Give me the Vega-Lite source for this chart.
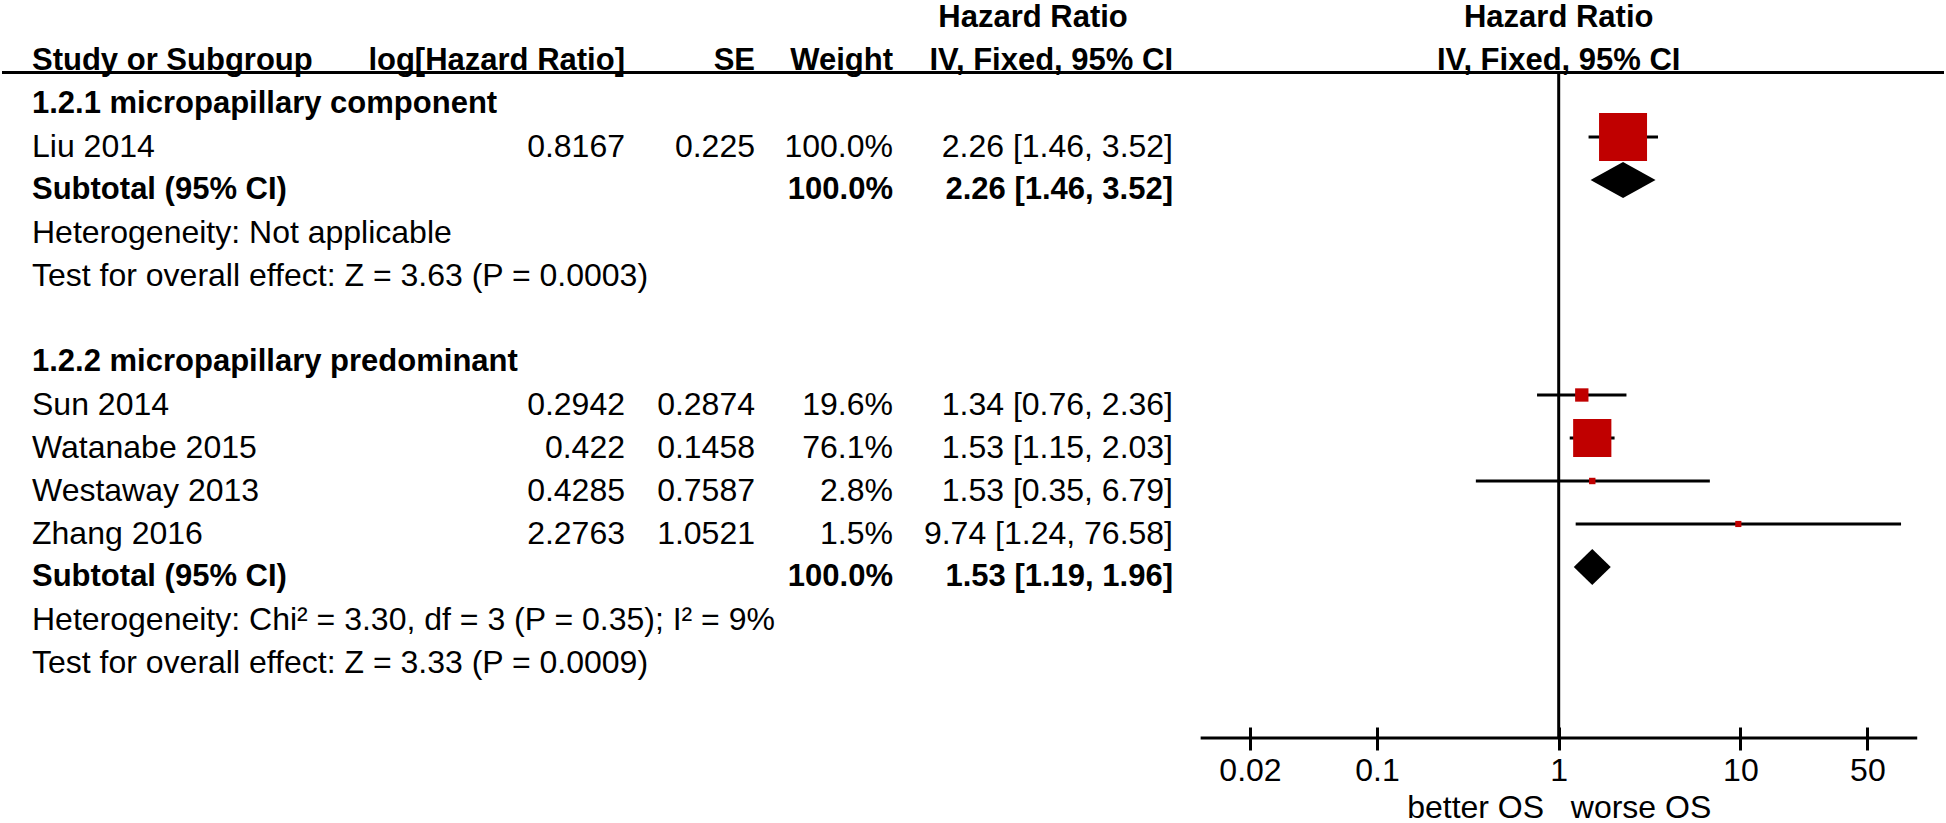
{
  "$schema": "https://vega.github.io/schema/vega-lite/v6.json",
  "width": 1946,
  "height": 738,
  "padding": 0,
  "background": "white",
  "config": {"view": {"stroke": null}, "font": "Liberation Sans"},
  "datasets": {
    "rows": [
      {"row": -1, "kind": "top", "ci": "Hazard Ratio"},
      {"row": 0, "kind": "head", "label": "Study or Subgroup", "loghr": "log[Hazard Ratio]", "se": "SE", "weight": "Weight", "ci": "IV, Fixed, 95% CI"},
      {"row": 1, "kind": "group", "label": "1.2.1 micropapillary component"},
      {"row": 2, "kind": "study", "label": "Liu 2014", "loghr": "0.8167", "se": "0.225", "weight": "100.0%", "ci": "2.26 [1.46, 3.52]", "hr": 2.26, "lo": 1.46, "hi": 3.52, "w": 100},
      {"row": 3, "kind": "total", "group": "1.2.1", "label": "Subtotal (95% CI)", "weight": "100.0%", "ci": "2.26 [1.46, 3.52]", "hr": 2.26, "lo": 1.46, "hi": 3.52},
      {"row": 4, "kind": "note", "label": "Heterogeneity: Not applicable"},
      {"row": 5, "kind": "note", "label": "Test for overall effect: Z = 3.63 (P = 0.0003)"},
      {"row": 7, "kind": "group", "label": "1.2.2 micropapillary predominant"},
      {"row": 8, "kind": "study", "label": "Sun 2014", "loghr": "0.2942", "se": "0.2874", "weight": "19.6%", "ci": "1.34 [0.76, 2.36]", "hr": 1.34, "lo": 0.76, "hi": 2.36, "w": 19.6},
      {"row": 9, "kind": "study", "label": "Watanabe 2015", "loghr": "0.422", "se": "0.1458", "weight": "76.1%", "ci": "1.53 [1.15, 2.03]", "hr": 1.53, "lo": 1.15, "hi": 2.03, "w": 76.1},
      {"row": 10, "kind": "study", "label": "Westaway 2013", "loghr": "0.4285", "se": "0.7587", "weight": "2.8%", "ci": "1.53 [0.35, 6.79]", "hr": 1.53, "lo": 0.35, "hi": 6.79, "w": 2.8},
      {"row": 11, "kind": "study", "label": "Zhang 2016", "loghr": "2.2763", "se": "1.0521", "weight": "1.5%", "ci": "9.74 [1.24, 76.58]", "hr": 9.74, "lo": 1.24, "hi": 76.58, "w": 1.5},
      {"row": 12, "kind": "total", "group": "1.2.2", "label": "Subtotal (95% CI)", "weight": "100.0%", "ci": "1.53 [1.19, 1.96]", "hr": 1.53, "lo": 1.19, "hi": 1.96},
      {"row": 13, "kind": "note", "label": "Heterogeneity: Chi² = 3.30, df = 3 (P = 0.35); I² = 9%"},
      {"row": 14, "kind": "note", "label": "Test for overall effect: Z = 3.33 (P = 0.0009)"}
    ]
  },
  "data": {"name": "rows"},
  "resolve": {"scale": {"x": "independent"}, "axis": {"x": "independent"}},
  "layer": [
    {
      "layer": [
        {
          "data": {"values": [{}]},
          "mark": {"type": "rule", "color": "black", "strokeWidth": 3},
          "encoding": {
            "x": {"datum": -1, "type": "quantitative", "scale": {"type": "linear", "domain": [-1, 0, 1, 2, 3, 4, 5], "range": [0, 30, 623, 753, 891, 1171, 1942], "nice": false, "zero": false}, "axis": null},
            "x2": {"datum": 5},
            "y": {"datum": 0.5, "type": "quantitative", "scale": {"type": "linear", "domain": [-1.186, 15.977], "reverse": true, "nice": false, "zero": false}, "axis": null}
          }
        },
        {
          "transform": [{"filter": "isValid(datum.label)"}],
          "mark": {"type": "text", "align": "left", "baseline": "middle", "dy": 10, "color": "black",
                   "fontWeight": {"expr": "indexof(['head','group','total','top'], datum.kind) >= 0 ? 'bold' : 'normal'"},
                   "fontSize": {"expr": "indexof(['head','group','total','top'], datum.kind) >= 0 ? 31 : 32"}},
          "encoding": {
            "x": {"datum": 0, "type": "quantitative", "scale": {"type": "linear", "domain": [-1, 0, 1, 2, 3, 4, 5], "range": [0, 30, 623, 753, 891, 1171, 1942], "nice": false, "zero": false}, "axis": null},
            "y": {"field": "row", "type": "quantitative", "scale": {"type": "linear", "domain": [-1.186, 15.977], "reverse": true, "nice": false, "zero": false}, "axis": null},
            "text": {"field": "label"}
          }
        },
        {
          "transform": [{"filter": "isValid(datum.loghr)"}],
          "mark": {"type": "text", "align": "right", "baseline": "middle", "dy": 10, "color": "black",
                   "fontWeight": {"expr": "indexof(['head','group','total','top'], datum.kind) >= 0 ? 'bold' : 'normal'"},
                   "fontSize": {"expr": "indexof(['head','group','total','top'], datum.kind) >= 0 ? 31 : 32"}},
          "encoding": {
            "x": {"datum": 1, "type": "quantitative", "scale": {"type": "linear", "domain": [-1, 0, 1, 2, 3, 4, 5], "range": [0, 30, 623, 753, 891, 1171, 1942], "nice": false, "zero": false}, "axis": null},
            "y": {"field": "row", "type": "quantitative", "scale": {"type": "linear", "domain": [-1.186, 15.977], "reverse": true, "nice": false, "zero": false}, "axis": null},
            "text": {"field": "loghr"}
          }
        },
        {
          "transform": [{"filter": "isValid(datum.se)"}],
          "mark": {"type": "text", "align": "right", "baseline": "middle", "dy": 10, "color": "black",
                   "fontWeight": {"expr": "indexof(['head','group','total','top'], datum.kind) >= 0 ? 'bold' : 'normal'"},
                   "fontSize": {"expr": "indexof(['head','group','total','top'], datum.kind) >= 0 ? 31 : 32"}},
          "encoding": {
            "x": {"datum": 2, "type": "quantitative", "scale": {"type": "linear", "domain": [-1, 0, 1, 2, 3, 4, 5], "range": [0, 30, 623, 753, 891, 1171, 1942], "nice": false, "zero": false}, "axis": null},
            "y": {"field": "row", "type": "quantitative", "scale": {"type": "linear", "domain": [-1.186, 15.977], "reverse": true, "nice": false, "zero": false}, "axis": null},
            "text": {"field": "se"}
          }
        },
        {
          "transform": [{"filter": "isValid(datum.weight)"}],
          "mark": {"type": "text", "align": "right", "baseline": "middle", "dy": 10, "color": "black",
                   "fontWeight": {"expr": "indexof(['head','group','total','top'], datum.kind) >= 0 ? 'bold' : 'normal'"},
                   "fontSize": {"expr": "indexof(['head','group','total','top'], datum.kind) >= 0 ? 31 : 32"}},
          "encoding": {
            "x": {"datum": 3, "type": "quantitative", "scale": {"type": "linear", "domain": [-1, 0, 1, 2, 3, 4, 5], "range": [0, 30, 623, 753, 891, 1171, 1942], "nice": false, "zero": false}, "axis": null},
            "y": {"field": "row", "type": "quantitative", "scale": {"type": "linear", "domain": [-1.186, 15.977], "reverse": true, "nice": false, "zero": false}, "axis": null},
            "text": {"field": "weight"}
          }
        },
        {
          "transform": [{"filter": "isValid(datum.ci) && datum.kind != 'top'"}],
          "mark": {"type": "text", "align": "right", "baseline": "middle", "dy": 10, "color": "black",
                   "fontWeight": {"expr": "indexof(['head','group','total','top'], datum.kind) >= 0 ? 'bold' : 'normal'"},
                   "fontSize": {"expr": "indexof(['head','group','total','top'], datum.kind) >= 0 ? 31 : 32"}},
          "encoding": {
            "x": {"datum": 4, "type": "quantitative", "scale": {"type": "linear", "domain": [-1, 0, 1, 2, 3, 4, 5], "range": [0, 30, 623, 753, 891, 1171, 1942], "nice": false, "zero": false}, "axis": null},
            "y": {"field": "row", "type": "quantitative", "scale": {"type": "linear", "domain": [-1.186, 15.977], "reverse": true, "nice": false, "zero": false}, "axis": null},
            "text": {"field": "ci"}
          }
        },
        {
          "transform": [{"filter": "datum.kind == 'top'"}],
          "mark": {"type": "text", "align": "center", "baseline": "middle", "dy": 10, "dx": -140, "color": "black", "fontWeight": "bold", "fontSize": 31},
          "encoding": {
            "x": {"datum": 4, "type": "quantitative", "scale": {"type": "linear", "domain": [-1, 0, 1, 2, 3, 4, 5], "range": [0, 30, 623, 753, 891, 1171, 1942], "nice": false, "zero": false}, "axis": null},
            "y": {"field": "row", "type": "quantitative", "scale": {"type": "linear", "domain": [-1.186, 15.977], "reverse": true, "nice": false, "zero": false}, "axis": null},
            "text": {"field": "ci"}
          }
        }
      ]
    },
    {
      "layer": [
        {
          "data": {"values": [{}]},
          "mark": {"type": "rule", "color": "black", "strokeWidth": 3},
          "encoding": {
            "x": {"datum": 1, "type": "quantitative", "scale": {"type": "log", "domain": [0.01, 100], "range": [1193.3, 1920.1], "nice": false}},
            "y": {"datum": 0.5, "type": "quantitative", "scale": {"type": "linear", "domain": [-1.186, 15.977], "reverse": true, "nice": false, "zero": false}, "axis": null},
            "y2": {"datum": 15.977}
          }
        },
        {
          "data": {"values": [{}]},
          "mark": {"type": "rule", "color": "black", "strokeWidth": 3},
          "encoding": {
            "x": {"datum": 0.0107, "type": "quantitative", "scale": {"type": "log", "domain": [0.01, 100], "range": [1193.3, 1920.1], "nice": false},
                  "axis": {"orient": "bottom", "values": [0.02, 0.1, 1, 10, 50], "format": "~g", "domain": false, "grid": false,
                           "ticks": true, "tickSize": 23, "tickWidth": 3, "tickColor": "black", "offset": -11,
                           "labelFont": "Liberation Sans", "labelFontSize": 32, "labelColor": "black", "labelPadding": 5,
                           "labelFlush": false, "labelOverlap": false,
                           "title": "better OS\u00a0\u00a0\u00a0worse OS", "titleFont": "Liberation Sans", "titleFontSize": 32,
                           "titleFontWeight": "normal", "titleColor": "black", "titlePadding": 6}},
            "x2": {"datum": 94},
            "y": {"datum": 15.977, "type": "quantitative", "scale": {"type": "linear", "domain": [-1.186, 15.977], "reverse": true, "nice": false, "zero": false}, "axis": null}
          }
        },
        {
          "transform": [{"filter": "datum.kind == 'study'"}],
          "mark": {"type": "rule", "color": "black", "strokeWidth": 3},
          "encoding": {
            "x": {"field": "lo", "type": "quantitative", "scale": {"type": "log", "domain": [0.01, 100], "range": [1193.3, 1920.1], "nice": false}},
            "x2": {"field": "hi"},
            "y": {"field": "row", "type": "quantitative", "scale": {"type": "linear", "domain": [-1.186, 15.977], "reverse": true, "nice": false, "zero": false}, "axis": null}
          }
        },
        {
          "transform": [{"filter": "datum.kind == 'study'"}],
          "mark": {"type": "square", "filled": true, "opacity": 1, "color": "#C00000", "strokeWidth": 0},
          "encoding": {
            "x": {"field": "hr", "type": "quantitative", "scale": {"type": "log", "domain": [0.01, 100], "range": [1193.3, 1920.1], "nice": false}},
            "y": {"field": "row", "type": "quantitative", "scale": {"type": "linear", "domain": [-1.186, 15.977], "reverse": true, "nice": false, "zero": false}, "axis": null},
            "size": {"field": "w", "type": "quantitative", "scale": {"type": "pow", "exponent": 1.7, "domain": [0, 100], "range": [36, 2304]}, "legend": null}
          }
        },
        {
          "transform": [{"filter": "datum.kind == 'total'"}],
          "mark": {"type": "point", "filled": true, "opacity": 1, "color": "black", "strokeWidth": 0, "size": 4225},
          "encoding": {
            "x": {"field": "hr", "type": "quantitative", "scale": {"type": "log", "domain": [0.01, 100], "range": [1193.3, 1920.1], "nice": false}},
            "y": {"field": "row", "type": "quantitative", "scale": {"type": "linear", "domain": [-1.186, 15.977], "reverse": true, "nice": false, "zero": false}, "axis": null},
            "shape": {"field": "group", "type": "nominal", "scale": {"domain": ["1.2.1", "1.2.2"], "range": ["M-1,0L0,-0.554L1,0L0,0.554Z", "M-0.569,0L0,-0.554L0.569,0L0,0.554Z"]}, "legend": null}
          }
        },
        {
          "transform": [{"filter": "datum.kind == 'top' || datum.kind == 'head'"}],
          "mark": {"type": "text", "align": "center", "baseline": "middle", "dy": 10, "color": "black", "fontWeight": "bold", "fontSize": 31},
          "encoding": {
            "x": {"datum": 1, "type": "quantitative", "scale": {"type": "log", "domain": [0.01, 100], "range": [1193.3, 1920.1], "nice": false}},
            "y": {"field": "row", "type": "quantitative", "scale": {"type": "linear", "domain": [-1.186, 15.977], "reverse": true, "nice": false, "zero": false}, "axis": null},
            "text": {"field": "ci"}
          }
        }
      ]
    }
  ]
}
